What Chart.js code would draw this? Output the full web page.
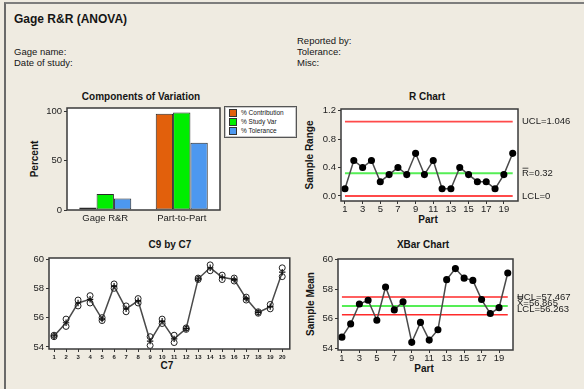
<!DOCTYPE html>
<html lang="en">
<head>
<meta charset="UTF-8">
<title>Gage R&amp;R (ANOVA)</title>
<script src="https://cdn.jsdelivr.net/npm/chart.js"></script>
<style>
  body { margin: 0; background: #fff; }
  #page { position: relative; width: 584px; height: 389px; background: #efebe1; overflow: hidden;
          font-family: "Liberation Sans", Arial, sans-serif; color: #151515; }
  #frame { position: absolute; left: 4px; top: 2px; width: 600px; height: 400px;
           border-top: 2px solid #7d7d7d; border-left: 2px solid #6a6a6a; }
  .t { position: absolute; white-space: nowrap; line-height: 1; }
  .c { transform: translate(-50%, -50%); }
  .rot { transform: translate(-50%, -50%) rotate(-90deg); }
  .b { font-weight: bold; font-size: 10px; }
  .info { font-size: 9.5px; }
  .box { position: absolute; }
  #legend { position: absolute; left: 224px; top: 106px; width: 71px; height: 30px; background: #fff;
            border: 1px solid #555; box-shadow: inset 0 0 0 1px #c8c8c8; font-size: 6.5px; }
  #legend div { position: absolute; left: 4px; height: 8px; line-height: 8px; white-space: nowrap; }
  #legend span { display: inline-block; width: 6px; height: 6px; border: 1px solid #333; vertical-align: top; margin-right: 4px; }
</style>
</head>
<body>
<div id="page">
  <div id="frame"></div>

  <div class="t" style="left:14px; top:13px; font-weight:bold; font-size:12px;">Gage R&amp;R (ANOVA)</div>
  <div class="t info" style="left:297px; top:35.5px;">Reported by:</div>
  <div class="t info" style="left:14px; top:47px;">Gage name:</div>
  <div class="t info" style="left:297px; top:47px;">Tolerance:</div>
  <div class="t info" style="left:14px; top:58px;">Date of study:</div>
  <div class="t info" style="left:297px; top:58px;">Misc:</div>

  <div class="t b c" style="left:141px; top:97px;">Components of Variation</div>
  <div class="t b rot" style="left:35px; top:159px;">Percent</div>
  <div class="t b c" style="left:427px; top:97px;">R Chart</div>
  <div class="t b rot" style="left:310px; top:155px;">Sample Range</div>
  <div class="t b c" style="left:428px; top:220px;">Part</div>
  <div class="t b c" style="left:170px; top:245px;">C9 by C7</div>
  <div class="t b c" style="left:167px; top:366px;">C7</div>
  <div class="t b c" style="left:423px; top:245px;">XBar Chart</div>
  <div class="t b rot" style="left:311px; top:304px;">Sample Mean</div>
  <div class="t b c" style="left:424px; top:369px;">Part</div>

  <div class="box" style="left:40px; top:100px;"><canvas id="cov" width="184" height="126"></canvas></div>
  <div id="legend"></div>
  <div class="box" style="left:315px; top:101px;"><canvas id="rchart" width="269" height="114"></canvas></div>
  <div class="box" style="left:23px; top:250px;"><canvas id="byPart" width="272" height="111"></canvas></div>
  <div class="box" style="left:312px; top:251px;"><canvas id="xbar" width="272" height="113"></canvas></div>
</div>

<script>
  // ---- data ----
  const components = ['Gage R&R', 'Part-to-Part'];
  const seriesNames = ['% Contribution', '% Study Var', '% Tolerance'];
  const pctContribution = [2.6, 97.4];
  const pctStudyVar = [16.2, 98.7];
  const pctTolerance = [11.6, 68.2];
  const percentTicks = [0, 50, 100];

  const parts = [1, 2, 3, 4, 5, 6, 7, 8, 9, 10, 11, 12, 13, 14, 15, 16, 17, 18, 19, 20];
  const readingsA = [54.7, 55.4, 56.8, 57.0, 55.8, 58.0, 56.4, 57.0, 54.1, 55.6, 54.3, 55.2, 58.6, 59.2, 58.6, 58.5, 57.2, 56.3, 56.6, 58.8];
  const readingsB = [54.8, 55.9, 57.2, 57.5, 56.0, 58.3, 56.8, 57.3, 54.7, 55.9, 54.8, 55.3, 58.7, 59.6, 58.9, 58.7, 57.4, 56.4, 56.9, 59.4];
  const partMeans = [54.75, 55.65, 57.0, 57.25, 55.9, 58.15, 56.6, 57.15, 54.4, 55.75, 54.55, 55.25, 58.65, 59.4, 58.75, 58.6, 57.3, 56.35, 56.75, 59.1];
  const ranges = [0.1, 0.5, 0.4, 0.5, 0.2, 0.3, 0.4, 0.3, 0.6, 0.3, 0.5, 0.1, 0.1, 0.4, 0.3, 0.2, 0.2, 0.1, 0.3, 0.6];

  const rUCL = 1.046, rBar = 0.32, rLCL = 0;
  const xUCL = 57.467, xBar = 56.865, xLCL = 56.263;

  const rTicks = [0, 0.4, 0.8, 1.2];
  const meanTicks = [54, 56, 58, 60];
  const oddParts = [1, 3, 5, 7, 9, 11, 13, 15, 17, 19];

  // ---- common setup ----
  Chart.defaults.font.family = '"Liberation Sans", Arial, sans-serif';
  Chart.defaults.font.size = 9.5;
  Chart.defaults.color = '#222';

  const ink = '#333';
  const redLine = '#ff4a4a';
  const greenLine = '#55ee55';

  // white plot area, dark frame and the control-limit labels on the right
  function plotFrame(labels) {
    return {
      id: 'plotFrame',
      beforeDraw(chart) {
        const a = chart.chartArea, ctx = chart.ctx;
        ctx.save();
        ctx.fillStyle = '#fff';
        ctx.fillRect(a.left, a.top, a.width, a.height);
        ctx.restore();
      },
      afterDraw(chart) {
        const a = chart.chartArea, ctx = chart.ctx;
        ctx.save();
        ctx.lineWidth = 1.5;
        ctx.strokeStyle = '#3a3a3a';
        ctx.strokeRect(a.left, a.top, a.width, a.height);
        (labels || []).forEach(l => {
          const y = chart.scales.y.getPixelForValue(l.value) + (l.dy || 0);
          const x = a.right + 4;
          ctx.font = '9.5px "Liberation Sans", Arial, sans-serif';
          ctx.fillStyle = '#222';
          ctx.textBaseline = 'middle';
          ctx.textAlign = 'left';
          ctx.fillText(l.text, x, y);
          if (l.bars) {
            const w = ctx.measureText(l.text[0]).width;
            ctx.lineWidth = 0.8;
            ctx.strokeStyle = '#222';
            for (let i = 0; i < l.bars; i++) {
              const by = y - 5 - i * 1.6;
              ctx.beginPath();
              ctx.moveTo(x + 0.5, by);
              ctx.lineTo(x + w - 0.5, by);
              ctx.stroke();
            }
          }
        });
        ctx.restore();
      }
    };
  }

  function yAxis(min, max, ticks, width, fmt) {
    return {
      type: 'linear', min: min, max: max,
      afterBuildTicks: s => { s.ticks = ticks.map(v => ({ value: v })); },
      afterFit: s => { s.width = width; },
      grid: { drawOnChartArea: false, tickLength: 3, tickColor: ink, color: ink },
      border: { display: false },
      ticks: { padding: 2, callback: fmt || (v => v) }
    };
  }

  function xAxis(min, max, ticks, height, font, pad) {
    return {
      type: 'linear', min: min, max: max,
      afterBuildTicks: s => { s.ticks = ticks.map(v => ({ value: v })); },
      afterFit: s => { s.height = height; },
      grid: { drawOnChartArea: false, tickLength: 3, tickColor: ink, color: ink },
      border: { display: false },
      ticks: { padding: pad, maxRotation: 0, autoSkip: false, font: font }
    };
  }

  const quiet = {
    responsive: false, animation: false, events: [],
    plugins: { legend: { display: false }, tooltip: { enabled: false } }
  };

  function limitLine(value, color, width) {
    return {
      data: [{ x: parts[0], y: value }, { x: parts[parts.length - 1], y: value }],
      borderColor: color, borderWidth: width, pointRadius: 0, fill: false
    };
  }

  // ---- Components of Variation ----
  const barColors = ['#e2600c', '#00ee00', '#4d98ef'];
  new Chart(document.getElementById('cov'), {
    type: 'bar',
    data: {
      labels: components,
      datasets: [pctContribution, pctStudyVar, pctTolerance].map((vals, i) => ({
        label: seriesNames[i], data: vals,
        backgroundColor: barColors[i], borderColor: '#2a2a2a', borderWidth: 1, borderSkipped: false,
        barPercentage: 1, categoryPercentage: 0.68
      }))
    },
    options: Object.assign({}, quiet, {
      layout: { padding: { top: 8, right: 4, left: 0, bottom: 0 } },
      scales: {
        x: {
          afterFit: s => { s.height = 16; },
          grid: { display: false, drawTicks: false }, border: { display: false },
          ticks: { padding: 3 }
        },
        y: yAxis(0, 103.3, percentTicks, 27)
      }
    }),
    plugins: [plotFrame()]
  });

  const legend = document.getElementById('legend');
  seriesNames.forEach((name, i) => {
    const row = document.createElement('div');
    row.style.top = (2 + i * 9) + 'px';
    row.innerHTML = '<span style="background:' + barColors[i] + '"></span>' + name;
    legend.appendChild(row);
  });

  // ---- R Chart ----
  new Chart(document.getElementById('rchart'), {
    type: 'line',
    data: {
      datasets: [
        {
          data: parts.map((p, i) => ({ x: p, y: ranges[i] })),
          borderColor: '#4a4a4a', borderWidth: 1.5, pointRadius: 2.8,
          pointBackgroundColor: '#000', pointBorderColor: '#000', tension: 0
        },
        limitLine(rUCL, redLine, 1.8),
        limitLine(rBar, greenLine, 2),
        limitLine(rLCL, redLine, 2)
      ]
    },
    options: Object.assign({}, quiet, {
      layout: { padding: { top: 8, right: 66, left: 0, bottom: 0 } },
      scales: {
        x: xAxis(0.55, 20.6, oddParts, 14, { size: 9.5 }, 0),
        y: yAxis(-0.072, 1.225, rTicks, 26, v => v.toFixed(1))
      }
    }),
    plugins: [plotFrame([
      { text: 'UCL=' + rUCL, value: rUCL },
      { text: 'R=' + rBar, value: rBar, bars: 1 },
      { text: 'LCL=' + rLCL, value: rLCL }
    ])]
  });

  // ---- C9 by C7 ----
  new Chart(document.getElementById('byPart'), {
    type: 'line',
    data: {
      datasets: [
        {
          data: parts.map((p, i) => ({ x: p, y: partMeans[i] })),
          showLine: false, pointStyle: 'cross', pointRadius: 3.2,
          pointBorderColor: '#111', pointBorderWidth: 1.2
        },
        {
          data: parts.map((p, i) => ({ x: p, y: readingsA[i] })),
          showLine: false, pointStyle: 'circle', pointRadius: 3,
          pointBorderColor: '#222', pointBackgroundColor: 'rgba(255,255,255,0)', pointBorderWidth: 1
        },
        {
          data: parts.map((p, i) => ({ x: p, y: readingsB[i] })),
          showLine: false, pointStyle: 'circle', pointRadius: 3,
          pointBorderColor: '#222', pointBackgroundColor: 'rgba(255,255,255,0)', pointBorderWidth: 1
        },
        {
          data: parts.map((p, i) => ({ x: p, y: partMeans[i] })),
          borderColor: '#4a4a4a', borderWidth: 1.5, pointRadius: 0, tension: 0
        }
      ]
    },
    options: Object.assign({}, quiet, {
      layout: { padding: { top: 8, right: 5, left: 0, bottom: 0 } },
      scales: {
        x: xAxis(0.58, 20.63, parts, 12, { size: 6, weight: 'bold' }, 2),
        y: yAxis(53.86, 60.07, meanTicks, 26)
      }
    }),
    plugins: [plotFrame()]
  });

  // ---- XBar Chart ----
  new Chart(document.getElementById('xbar'), {
    type: 'line',
    data: {
      datasets: [
        {
          data: parts.map((p, i) => ({ x: p, y: partMeans[i] })),
          borderColor: '#4a4a4a', borderWidth: 1.5, pointRadius: 2.8,
          pointBackgroundColor: '#000', pointBorderColor: '#000', tension: 0
        },
        limitLine(xUCL, '#ff2a2a', 1.5),
        limitLine(xBar, greenLine, 2),
        limitLine(xLCL, '#ff2a2a', 1.5)
      ]
    },
    options: Object.assign({}, quiet, {
      layout: { padding: { top: 8, right: 71, left: 0, bottom: 0 } },
      scales: {
        x: xAxis(0.55, 20.6, oddParts, 14, { size: 9.5 }, 0),
        y: yAxis(53.88, 60.05, meanTicks, 26)
      }
    }),
    plugins: [plotFrame([
      { text: 'UCL=' + xUCL, value: xBar, dy: -8.6 },
      { text: 'X=' + xBar, value: xBar, dy: -2.8, bars: 2 },
      { text: 'LCL=' + xLCL, value: xBar, dy: 3.2 }
    ])]
  });
</script>
</body>
</html>
